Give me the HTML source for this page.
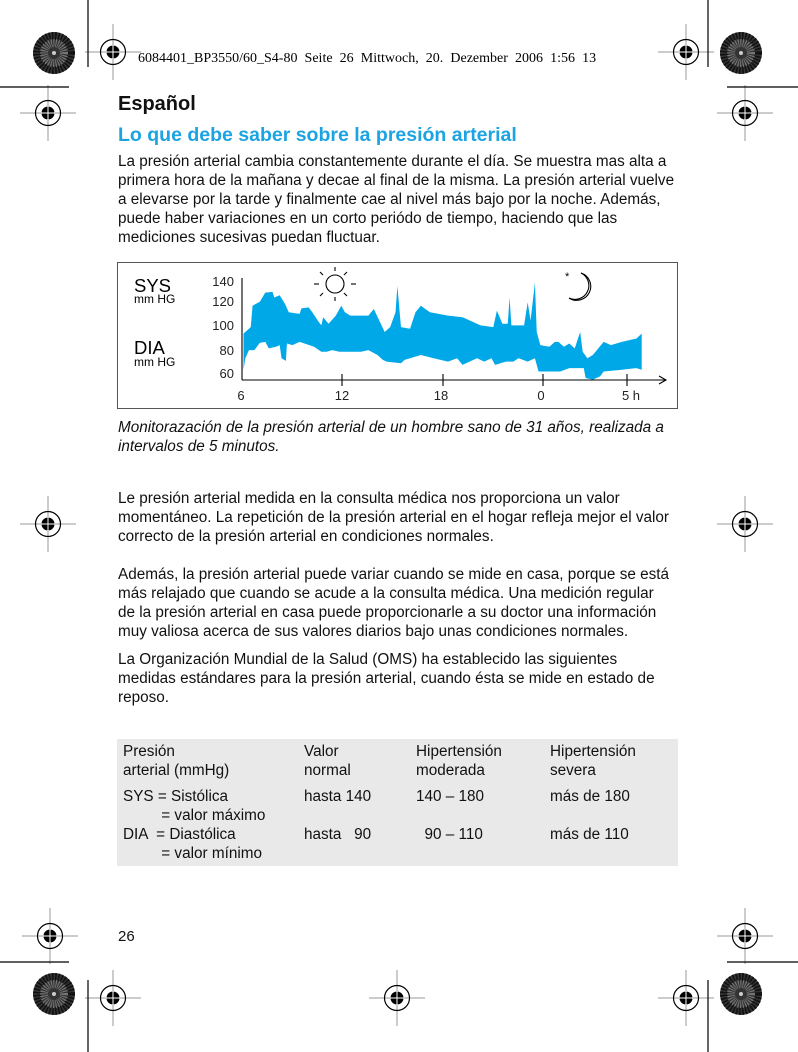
<!DOCTYPE html>
<html><head><meta charset="utf-8"><style>
body{margin:0;width:798px;height:1052px;background:#fff;position:relative;overflow:hidden;font-family:"Liberation Sans",Arial,sans-serif;color:#111}
.t{position:absolute;left:118px;font-size:15.3px;line-height:19px;white-space:nowrap}
svg{position:absolute;left:0;top:0}
</style></head><body>
<svg width="798" height="1052">
<defs>
<g id="tg"><line x1="-28" y1="0" x2="28" y2="0" stroke="#999" stroke-width="1"/><line x1="0" y1="-28" x2="0" y2="28" stroke="#999" stroke-width="1"/><circle r="12.5" fill="none" stroke="#000" stroke-width="1.2"/><circle r="6.5" fill="#000"/><line x1="-7" x2="7" y1="0" y2="0" stroke="#fff" stroke-width="1"/><line y1="-7" y2="7" x1="0" x2="0" stroke="#fff" stroke-width="1"/></g>
<g id="sb"><circle r="21" fill="#333"/><circle r="17" fill="none" stroke="#111" stroke-width="8" stroke-dasharray="1.5 1.5"/><circle r="10" fill="none" stroke="#777" stroke-width="8" stroke-dasharray="1 1.2"/><circle r="2" fill="#ccc"/></g>
</defs>
<use href="#sb" x="54" y="53"/><use href="#sb" x="741" y="53"/><use href="#sb" x="54" y="994"/><use href="#sb" x="741" y="994"/>
<use href="#tg" x="113" y="52"/><use href="#tg" x="686" y="52"/><use href="#tg" x="48" y="113"/><use href="#tg" x="745" y="113"/>
<use href="#tg" x="48" y="524"/><use href="#tg" x="745" y="524"/><use href="#tg" x="50" y="936"/><use href="#tg" x="745" y="936"/>
<use href="#tg" x="113" y="998"/><use href="#tg" x="397" y="998"/><use href="#tg" x="686" y="998"/>
<g stroke="#000" stroke-width="1.2">
<line x1="88" y1="0" x2="88" y2="67"/><line x1="708" y1="0" x2="708" y2="67"/>
<line x1="0" y1="87" x2="69" y2="87"/><line x1="727" y1="87" x2="798" y2="87"/>
<line x1="0" y1="962" x2="69" y2="962"/><line x1="727" y1="962" x2="798" y2="962"/>
<line x1="88" y1="980" x2="88" y2="1052"/><line x1="708" y1="980" x2="708" y2="1052"/>
</g>
<text x="138" y="62" font-family="Liberation Serif,serif" font-size="14" word-spacing="3.6">6084401_BP3550/60_S4-80  Seite 26  Mittwoch, 20. Dezember 2006  1:56 13</text>
<rect x="117.5" y="262.5" width="560" height="146" fill="none" stroke="#555" stroke-width="1"/>
<g transform="translate(115,263) scale(0.362,0.3286)">
<polygon fill="#00a8e8" points="355,215 375,195 380,130 400,118 415,90 435,88 440,105 455,98 470,125 480,150 510,155 515,138 535,135 545,150 560,175 570,190 575,165 590,185 610,160 625,130 635,150 650,160 700,160 715,140 730,175 745,210 760,195 775,150 780,70 790,195 815,200 830,150 845,130 870,150 920,160 960,165 1010,190 1045,195 1055,145 1070,185 1085,185 1090,105 1095,190 1130,190 1140,120 1148,175 1160,60 1165,210 1175,250 1200,255 1215,240 1225,240 1240,255 1255,245 1270,260 1285,210 1292,270 1305,290 1320,280 1335,260 1350,240 1370,250 1385,245 1400,240 1440,230 1455,215 1455,325 1440,320 1400,325 1350,330 1340,345 1320,355 1300,350 1295,320 1255,320 1230,330 1170,330 1160,290 1140,300 1115,290 1100,300 1080,300 1050,310 1040,290 1020,300 1000,290 960,310 945,290 920,300 880,290 845,280 800,295 790,305 750,300 740,295 725,280 700,265 680,270 650,270 620,270 600,265 585,270 570,270 550,255 510,240 490,250 475,245 472,298 460,290 455,250 445,255 425,260 415,240 400,243 385,265 370,265 360,290 355,325"/>
</g>
<g stroke="#000" stroke-width="1.1" fill="none">
<line x1="242" y1="278" x2="242" y2="380"/><line x1="242" y1="380" x2="666" y2="380"/>
<polyline points="659,376 666,380 659,384"/>
<line x1="342" y1="374" x2="342" y2="386"/><line x1="443" y1="374" x2="443" y2="386"/><line x1="543" y1="374" x2="543" y2="386"/><line x1="627" y1="374" x2="627" y2="386"/>
<circle cx="335" cy="284" r="9"/>
<line x1="335" y1="267" x2="335" y2="271"/><line x1="335" y1="297" x2="335" y2="301"/>
<line x1="314" y1="284" x2="319" y2="284"/><line x1="351" y1="284" x2="356" y2="284"/>
<line x1="320" y1="272" x2="323" y2="275"/><line x1="347" y1="272" x2="344" y2="275"/>
<line x1="320" y1="296" x2="323" y2="293"/><line x1="347" y1="296" x2="344" y2="293"/>
<path d="M581,273 A14,14 0 1 1 569,298 A11,11 0 0 0 581,273 Z"/>
</g>
<text x="565" y="280" font-size="11">*</text>
<g font-size="13" fill="#222" text-anchor="end">
<text x="234" y="286">140</text><text x="234" y="306">120</text><text x="234" y="330">100</text><text x="234" y="355">80</text><text x="234" y="378">60</text>
</g>
<g font-size="13" fill="#222" text-anchor="middle">
<text x="241" y="400">6</text><text x="342" y="400">12</text><text x="441" y="400">18</text><text x="541" y="400">0</text><text x="631" y="400">5 h</text>
</g>
<text x="134" y="292" font-size="18.5">SYS</text><text x="134" y="303" font-size="12">mm HG</text>
<text x="134" y="354" font-size="18.5">DIA</text><text x="134" y="366" font-size="12">mm HG</text>
</svg>
<div class="t" style="top:95px;font-size:20px;font-weight:bold">Español</div>
<div class="t" style="top:126px;font-size:19.5px;font-weight:bold;color:#1ba3e2">Lo que debe saber sobre la presión arterial</div>
<div class="t" style="top:152px">La presión arterial cambia constantemente durante el día.  Se muestra mas alta a<br>primera hora de la mañana y decae al final de la misma. La presión arterial vuelve<br>a elevarse por la tarde y finalmente cae al nivel más bajo por la noche.  Además,<br>puede haber variaciones en un corto periódo de tiempo, haciendo que las<br>mediciones sucesivas puedan fluctuar.</div>
<div class="t" style="top:418px;font-style:italic">Monitorazación de la presión arterial de un hombre sano de 31 años, realizada a<br>intervalos de 5 minutos.</div>
<div class="t" style="top:489px">Le presión arterial medida en la consulta médica nos proporciona un valor<br>momentáneo. La repetición de la presión arterial en el hogar refleja mejor el valor<br>correcto de la presión arterial en condiciones normales.</div>
<div class="t" style="top:565px">Además, la presión arterial puede variar cuando se mide en casa, porque se está<br>más relajado que cuando se acude a la consulta médica. Una medición regular<br>de la presión arterial en casa puede proporcionarle a su doctor una información<br>muy valiosa acerca de sus valores diarios bajo unas condiciones normales.</div>
<div class="t" style="top:650px">La Organización Mundial de la Salud (OMS) ha establecido las siguientes<br>medidas estándares para la presión arterial, cuando ésta se mide en estado de<br>reposo.</div>
<div style="position:absolute;left:117px;top:739px;width:561px;height:127px;background:#e9e9e9"></div>
<div class="t" style="top:742px;left:123px">Presión<br>arterial (mmHg)</div>
<div class="t" style="top:742px;left:304px">Valor<br>normal</div>
<div class="t" style="top:742px;left:416px">Hipertensión<br>moderada</div>
<div class="t" style="top:742px;left:550px">Hipertensión<br>severa</div>
<div class="t" style="top:787px;left:123px">SYS = Sistólica<br>&nbsp;&nbsp;&nbsp;&nbsp;&nbsp;&nbsp;&nbsp;&nbsp;&nbsp;= valor máximo<br>DIA &nbsp;= Diastólica<br>&nbsp;&nbsp;&nbsp;&nbsp;&nbsp;&nbsp;&nbsp;&nbsp;&nbsp;= valor mínimo</div>
<div class="t" style="top:787px;left:304px">hasta 140<br><br>hasta &nbsp;&nbsp;90</div>
<div class="t" style="top:787px;left:416px">140 – 180<br><br>&nbsp;&nbsp;90 – 110</div>
<div class="t" style="top:787px;left:550px">más de 180<br><br>más de 110</div>
<div class="t" style="top:927px;font-size:15px">26</div>
</body></html>
